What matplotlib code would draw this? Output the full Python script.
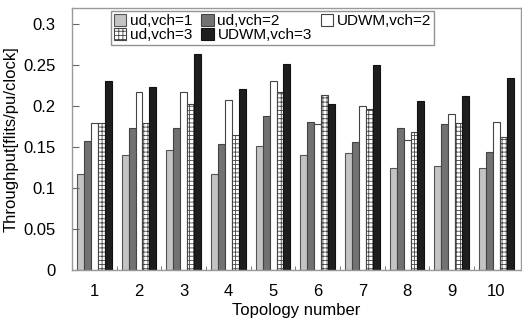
import numpy as np
import matplotlib
matplotlib.use("Agg")
import matplotlib.pyplot as plt
from matplotlib.ticker import FixedLocator

plt.rcParams['font.family'] = ['Liberation Sans', 'DejaVu Sans']
plt.rcParams['hatch.color'] = '#999999'
plt.rcParams['hatch.linewidth'] = 0.6

topologies = [1, 2, 3, 4, 5, 6, 7, 8, 9, 10]
ud_vch1 = [0.117, 0.140, 0.147, 0.117, 0.152, 0.140, 0.143, 0.125, 0.127, 0.125]
ud_vch2 = [0.158, 0.174, 0.173, 0.154, 0.188, 0.181, 0.156, 0.173, 0.178, 0.144]
udwm_vch2 = [0.180, 0.217, 0.217, 0.208, 0.231, 0.178, 0.200, 0.159, 0.190, 0.181]
ud_vch3 = [0.180, 0.180, 0.203, 0.165, 0.218, 0.214, 0.197, 0.168, 0.180, 0.163]
udwm_vch3 = [0.231, 0.224, 0.264, 0.221, 0.251, 0.203, 0.250, 0.207, 0.213, 0.235]

series = [
    ("ud,vch=1", ud_vch1, dict(color='#c4c4c4', edgecolor='#555555')),
    ("ud,vch=2", ud_vch2, dict(color='#727272', edgecolor='#444444')),
    ("UDWM,vch=2", udwm_vch2, dict(color='white', edgecolor='#444444')),
    ("ud,vch=3", ud_vch3, dict(color='white', edgecolor='#444444', hatch='++++')),
    ("UDWM,vch=3", udwm_vch3, dict(color='#1e1e1e', edgecolor='#111111')),
]

fig = plt.figure(figsize=(5.22, 3.30), dpi=100)
ax = fig.add_axes([72 / 522, 1 - 270 / 330, 449 / 522, 262 / 330])

x = np.array(topologies)
w = 0.155
bars = {}
for i, (name, vals, style) in enumerate(series):
    bars[name] = ax.bar(x + (i - 2) * w, vals, w, label=name, linewidth=0.8, **style)

ax.set_xlim(0.5, 10.55)
ax.set_ylim(0, 0.32)
ax.set_yticks([0, 0.05, 0.1, 0.15, 0.2, 0.25, 0.3])
ax.set_yticklabels(['0', '0.05', '0.1', '0.15', '0.2', '0.25', '0.3'])
ax.set_xticks(topologies)
ax.set_xticklabels([str(t) for t in topologies])
ax.xaxis.set_minor_locator(FixedLocator(np.arange(1.5, 10.5, 1)))
ax.tick_params(axis='x', which='major', length=0, labelsize=12, pad=10)
ax.tick_params(axis='x', which='minor', direction='in', length=3, color='#666666')
ax.tick_params(axis='y', direction='in', length=5, labelsize=12, pad=12, color='#666666')

for s in ax.spines.values():
    s.set_color('#999999')
    s.set_linewidth(1.0)

ax.set_ylabel('Throughput[flits/pu/clock]', fontsize=12, labelpad=3)
ax.set_xlabel('Topology number', fontsize=12, labelpad=3)

order = ["ud,vch=1", "ud,vch=3", "ud,vch=2", "UDWM,vch=3", "UDWM,vch=2"]
leg = ax.legend([bars[n] for n in order], order, ncol=3, loc='upper left',
                bbox_to_anchor=(0.083, 0.995), fontsize=11, frameon=True,
                fancybox=False, borderpad=0.2, handlelength=0.8, handleheight=0.8,
                handletextpad=0.25, columnspacing=0.6, labelspacing=0.0,
                borderaxespad=0.1)
leg.get_frame().set_edgecolor('#777777')
leg.get_frame().set_linewidth(1.0)

fig.savefig('out.png', dpi=100)
